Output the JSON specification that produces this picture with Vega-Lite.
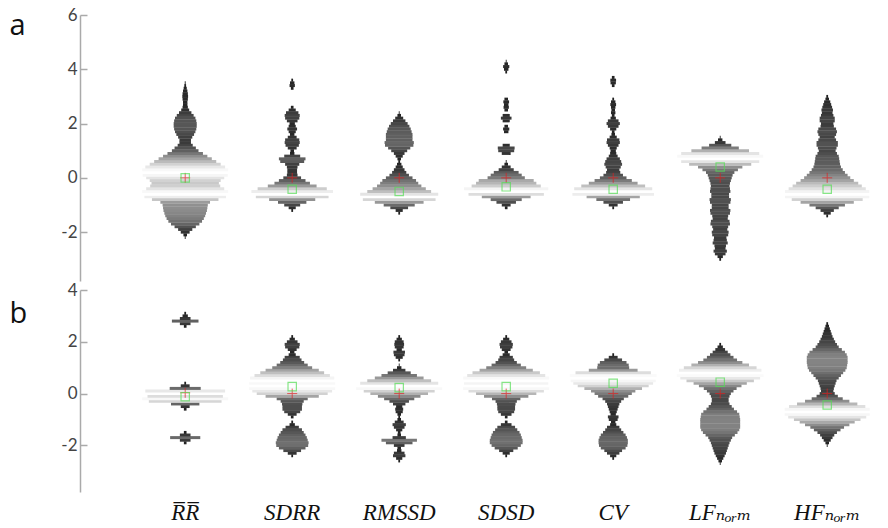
{
"$schema": "https://vega.github.io/schema/vega-lite/v6.json",
"padding": {"left": 9, "top": 6, "right": 5, "bottom": 0},
"config": {"view": {"stroke": null}, "axis": {"grid": false}},
"datasets": {"all": [
{"p":"a","c":"RR","v":-2.2,"d":0.01},{"p":"a","c":"RR","v":-2.1,"d":0.04},{"p":"a","c":"RR","v":-2.0,"d":0.1},{"p":"a","c":"RR","v":-1.9,"d":0.16},{"p":"a","c":"RR","v":-1.8,"d":0.24},{"p":"a","c":"RR","v":-1.7,"d":0.32},{"p":"a","c":"RR","v":-1.6,"d":0.38},{"p":"a","c":"RR","v":-1.5,"d":0.42},{"p":"a","c":"RR","v":-1.4,"d":0.45},{"p":"a","c":"RR","v":-1.3,"d":0.47},{"p":"a","c":"RR","v":-1.2,"d":0.49},{"p":"a","c":"RR","v":-1.1,"d":0.5},{"p":"a","c":"RR","v":-1.0,"d":0.51},{"p":"a","c":"RR","v":-0.9,"d":0.56},{"p":"a","c":"RR","v":-0.8,"d":0.75},{"p":"a","c":"RR","v":-0.7,"d":0.92},{"p":"a","c":"RR","v":-0.6,"d":1},{"p":"a","c":"RR","v":-0.5,"d":0.97},{"p":"a","c":"RR","v":-0.4,"d":0.88},{"p":"a","c":"RR","v":-0.3,"d":0.79},{"p":"a","c":"RR","v":-0.2,"d":0.76},{"p":"a","c":"RR","v":-0.1,"d":0.8},{"p":"a","c":"RR","v":0.0,"d":0.88},{"p":"a","c":"RR","v":0.1,"d":0.96},{"p":"a","c":"RR","v":0.2,"d":1},{"p":"a","c":"RR","v":0.3,"d":0.97},{"p":"a","c":"RR","v":0.4,"d":0.9},{"p":"a","c":"RR","v":0.5,"d":0.8},{"p":"a","c":"RR","v":0.6,"d":0.7},{"p":"a","c":"RR","v":0.7,"d":0.6},{"p":"a","c":"RR","v":0.8,"d":0.5},{"p":"a","c":"RR","v":0.9,"d":0.4},{"p":"a","c":"RR","v":1.0,"d":0.3},{"p":"a","c":"RR","v":1.1,"d":0.24},{"p":"a","c":"RR","v":1.2,"d":0.17},{"p":"a","c":"RR","v":1.3,"d":0.13},{"p":"a","c":"RR","v":1.4,"d":0.13},{"p":"a","c":"RR","v":1.5,"d":0.16},{"p":"a","c":"RR","v":1.6,"d":0.2},{"p":"a","c":"RR","v":1.7,"d":0.23},{"p":"a","c":"RR","v":1.8,"d":0.25},{"p":"a","c":"RR","v":1.9,"d":0.26},{"p":"a","c":"RR","v":2.0,"d":0.26},{"p":"a","c":"RR","v":2.1,"d":0.25},{"p":"a","c":"RR","v":2.2,"d":0.23},{"p":"a","c":"RR","v":2.3,"d":0.19},{"p":"a","c":"RR","v":2.4,"d":0.14},{"p":"a","c":"RR","v":2.5,"d":0.09},{"p":"a","c":"RR","v":2.6,"d":0.06},{"p":"a","c":"RR","v":2.7,"d":0.05},{"p":"a","c":"RR","v":2.8,"d":0.05},{"p":"a","c":"RR","v":2.9,"d":0.06},{"p":"a","c":"RR","v":3.0,"d":0.065},{"p":"a","c":"RR","v":3.1,"d":0.06},{"p":"a","c":"RR","v":3.2,"d":0.05},{"p":"a","c":"RR","v":3.3,"d":0.035},{"p":"a","c":"RR","v":3.4,"d":0.02},{"p":"a","c":"RR","v":3.5,"d":0.01},
{"p":"a","c":"SDRR","v":-1.2,"d":0.02},{"p":"a","c":"SDRR","v":-1.1,"d":0.08},{"p":"a","c":"SDRR","v":-1.0,"d":0.18},{"p":"a","c":"SDRR","v":-0.9,"d":0.32},{"p":"a","c":"SDRR","v":-0.8,"d":0.52},{"p":"a","c":"SDRR","v":-0.7,"d":0.82},{"p":"a","c":"SDRR","v":-0.6,"d":1},{"p":"a","c":"SDRR","v":-0.5,"d":0.92},{"p":"a","c":"SDRR","v":-0.4,"d":0.78},{"p":"a","c":"SDRR","v":-0.3,"d":0.55},{"p":"a","c":"SDRR","v":-0.2,"d":0.4},{"p":"a","c":"SDRR","v":-0.1,"d":0.3},{"p":"a","c":"SDRR","v":0.0,"d":0.2},{"p":"a","c":"SDRR","v":0.1,"d":0.12},{"p":"a","c":"SDRR","v":0.2,"d":0.11},{"p":"a","c":"SDRR","v":0.3,"d":0.11},{"p":"a","c":"SDRR","v":0.4,"d":0.12},{"p":"a","c":"SDRR","v":0.5,"d":0.16},{"p":"a","c":"SDRR","v":0.6,"d":0.27},{"p":"a","c":"SDRR","v":0.7,"d":0.3},{"p":"a","c":"SDRR","v":0.8,"d":0.18},{"p":"a","c":"SDRR","v":0.9,"d":0.05},{"p":"a","c":"SDRR","v":1.0,"d":0.04},{"p":"a","c":"SDRR","v":1.1,"d":0.1},{"p":"a","c":"SDRR","v":1.2,"d":0.15},{"p":"a","c":"SDRR","v":1.3,"d":0.17},{"p":"a","c":"SDRR","v":1.4,"d":0.16},{"p":"a","c":"SDRR","v":1.5,"d":0.1},{"p":"a","c":"SDRR","v":1.6,"d":0.05},{"p":"a","c":"SDRR","v":1.7,"d":0.08},{"p":"a","c":"SDRR","v":1.8,"d":0.11},{"p":"a","c":"SDRR","v":1.9,"d":0.08},{"p":"a","c":"SDRR","v":2.0,"d":0.06},{"p":"a","c":"SDRR","v":2.1,"d":0.12},{"p":"a","c":"SDRR","v":2.2,"d":0.16},{"p":"a","c":"SDRR","v":2.3,"d":0.17},{"p":"a","c":"SDRR","v":2.4,"d":0.14},{"p":"a","c":"SDRR","v":2.5,"d":0.08},{"p":"a","c":"SDRR","v":2.6,"d":0.03},{"p":"a","c":"SDRR","v":3.3,"d":0.03},{"p":"a","c":"SDRR","v":3.4,"d":0.06},{"p":"a","c":"SDRR","v":3.5,"d":0.05},{"p":"a","c":"SDRR","v":3.6,"d":0.02},
{"p":"a","c":"RMSSD","v":-1.3,"d":0.02},{"p":"a","c":"RMSSD","v":-1.2,"d":0.08},{"p":"a","c":"RMSSD","v":-1.1,"d":0.2},{"p":"a","c":"RMSSD","v":-1.0,"d":0.35},{"p":"a","c":"RMSSD","v":-0.9,"d":0.55},{"p":"a","c":"RMSSD","v":-0.8,"d":0.82},{"p":"a","c":"RMSSD","v":-0.7,"d":1},{"p":"a","c":"RMSSD","v":-0.6,"d":0.88},{"p":"a","c":"RMSSD","v":-0.5,"d":0.72},{"p":"a","c":"RMSSD","v":-0.4,"d":0.6},{"p":"a","c":"RMSSD","v":-0.3,"d":0.5},{"p":"a","c":"RMSSD","v":-0.2,"d":0.43},{"p":"a","c":"RMSSD","v":-0.1,"d":0.38},{"p":"a","c":"RMSSD","v":0.0,"d":0.3},{"p":"a","c":"RMSSD","v":0.1,"d":0.22},{"p":"a","c":"RMSSD","v":0.2,"d":0.16},{"p":"a","c":"RMSSD","v":0.3,"d":0.12},{"p":"a","c":"RMSSD","v":0.4,"d":0.08},{"p":"a","c":"RMSSD","v":0.5,"d":0.05},{"p":"a","c":"RMSSD","v":0.6,"d":0.02},{"p":"a","c":"RMSSD","v":0.7,"d":0.04},{"p":"a","c":"RMSSD","v":0.8,"d":0.08},{"p":"a","c":"RMSSD","v":0.9,"d":0.12},{"p":"a","c":"RMSSD","v":1.0,"d":0.18},{"p":"a","c":"RMSSD","v":1.1,"d":0.25},{"p":"a","c":"RMSSD","v":1.2,"d":0.32},{"p":"a","c":"RMSSD","v":1.3,"d":0.33},{"p":"a","c":"RMSSD","v":1.4,"d":0.3},{"p":"a","c":"RMSSD","v":1.5,"d":0.3},{"p":"a","c":"RMSSD","v":1.6,"d":0.3},{"p":"a","c":"RMSSD","v":1.7,"d":0.28},{"p":"a","c":"RMSSD","v":1.8,"d":0.26},{"p":"a","c":"RMSSD","v":1.9,"d":0.23},{"p":"a","c":"RMSSD","v":2.0,"d":0.19},{"p":"a","c":"RMSSD","v":2.1,"d":0.14},{"p":"a","c":"RMSSD","v":2.2,"d":0.09},{"p":"a","c":"RMSSD","v":2.3,"d":0.04},{"p":"a","c":"RMSSD","v":2.4,"d":0.01},
{"p":"a","c":"SDSD","v":-1.1,"d":0.03},{"p":"a","c":"SDSD","v":-1.0,"d":0.1},{"p":"a","c":"SDSD","v":-0.9,"d":0.22},{"p":"a","c":"SDSD","v":-0.8,"d":0.35},{"p":"a","c":"SDSD","v":-0.7,"d":0.55},{"p":"a","c":"SDSD","v":-0.6,"d":0.85},{"p":"a","c":"SDSD","v":-0.5,"d":1},{"p":"a","c":"SDSD","v":-0.4,"d":0.95},{"p":"a","c":"SDSD","v":-0.3,"d":0.78},{"p":"a","c":"SDSD","v":-0.2,"d":0.68},{"p":"a","c":"SDSD","v":-0.1,"d":0.62},{"p":"a","c":"SDSD","v":0.0,"d":0.42},{"p":"a","c":"SDSD","v":0.1,"d":0.35},{"p":"a","c":"SDSD","v":0.2,"d":0.28},{"p":"a","c":"SDSD","v":0.3,"d":0.17},{"p":"a","c":"SDSD","v":0.4,"d":0.1},{"p":"a","c":"SDSD","v":0.5,"d":0.04},{"p":"a","c":"SDSD","v":0.6,"d":0.01},{"p":"a","c":"SDSD","v":0.9,"d":0.1},{"p":"a","c":"SDSD","v":1.0,"d":0.18},{"p":"a","c":"SDSD","v":1.1,"d":0.19},{"p":"a","c":"SDSD","v":1.2,"d":0.08},{"p":"a","c":"SDSD","v":1.7,"d":0.05},{"p":"a","c":"SDSD","v":1.8,"d":0.07},{"p":"a","c":"SDSD","v":1.9,"d":0.04},{"p":"a","c":"SDSD","v":2.1,"d":0.08},{"p":"a","c":"SDSD","v":2.2,"d":0.12},{"p":"a","c":"SDSD","v":2.3,"d":0.08},{"p":"a","c":"SDSD","v":2.5,"d":0.04},{"p":"a","c":"SDSD","v":2.6,"d":0.06},{"p":"a","c":"SDSD","v":2.7,"d":0.05},{"p":"a","c":"SDSD","v":2.8,"d":0.065},{"p":"a","c":"SDSD","v":2.9,"d":0.04},{"p":"a","c":"SDSD","v":3.9,"d":0.02},{"p":"a","c":"SDSD","v":4.0,"d":0.05},{"p":"a","c":"SDSD","v":4.1,"d":0.07},{"p":"a","c":"SDSD","v":4.2,"d":0.04},{"p":"a","c":"SDSD","v":4.3,"d":0.01},
{"p":"a","c":"CV","v":-1.1,"d":0.02},{"p":"a","c":"CV","v":-1.0,"d":0.1},{"p":"a","c":"CV","v":-0.9,"d":0.22},{"p":"a","c":"CV","v":-0.8,"d":0.38},{"p":"a","c":"CV","v":-0.7,"d":0.6},{"p":"a","c":"CV","v":-0.6,"d":0.92},{"p":"a","c":"CV","v":-0.5,"d":1},{"p":"a","c":"CV","v":-0.4,"d":0.88},{"p":"a","c":"CV","v":-0.3,"d":0.72},{"p":"a","c":"CV","v":-0.2,"d":0.55},{"p":"a","c":"CV","v":-0.1,"d":0.42},{"p":"a","c":"CV","v":0.0,"d":0.3},{"p":"a","c":"CV","v":0.1,"d":0.22},{"p":"a","c":"CV","v":0.2,"d":0.16},{"p":"a","c":"CV","v":0.3,"d":0.14},{"p":"a","c":"CV","v":0.4,"d":0.17},{"p":"a","c":"CV","v":0.5,"d":0.2},{"p":"a","c":"CV","v":0.6,"d":0.18},{"p":"a","c":"CV","v":0.7,"d":0.15},{"p":"a","c":"CV","v":0.8,"d":0.1},{"p":"a","c":"CV","v":0.9,"d":0.07},{"p":"a","c":"CV","v":1.0,"d":0.06},{"p":"a","c":"CV","v":1.1,"d":0.08},{"p":"a","c":"CV","v":1.2,"d":0.12},{"p":"a","c":"CV","v":1.3,"d":0.15},{"p":"a","c":"CV","v":1.4,"d":0.14},{"p":"a","c":"CV","v":1.5,"d":0.08},{"p":"a","c":"CV","v":1.6,"d":0.04},{"p":"a","c":"CV","v":1.7,"d":0.03},{"p":"a","c":"CV","v":1.8,"d":0.07},{"p":"a","c":"CV","v":1.9,"d":0.12},{"p":"a","c":"CV","v":2.0,"d":0.15},{"p":"a","c":"CV","v":2.1,"d":0.12},{"p":"a","c":"CV","v":2.2,"d":0.06},{"p":"a","c":"CV","v":2.3,"d":0.03},{"p":"a","c":"CV","v":2.4,"d":0.05},{"p":"a","c":"CV","v":2.5,"d":0.04},{"p":"a","c":"CV","v":2.6,"d":0.05},{"p":"a","c":"CV","v":2.7,"d":0.065},{"p":"a","c":"CV","v":2.8,"d":0.05},{"p":"a","c":"CV","v":2.9,"d":0.02},{"p":"a","c":"CV","v":3.4,"d":0.03},{"p":"a","c":"CV","v":3.5,"d":0.06},{"p":"a","c":"CV","v":3.6,"d":0.065},{"p":"a","c":"CV","v":3.7,"d":0.03},
{"p":"a","c":"LF","v":-3.0,"d":0.02},{"p":"a","c":"LF","v":-2.9,"d":0.06},{"p":"a","c":"LF","v":-2.8,"d":0.12},{"p":"a","c":"LF","v":-2.7,"d":0.15},{"p":"a","c":"LF","v":-2.6,"d":0.12},{"p":"a","c":"LF","v":-2.5,"d":0.13},{"p":"a","c":"LF","v":-2.4,"d":0.17},{"p":"a","c":"LF","v":-2.3,"d":0.15},{"p":"a","c":"LF","v":-2.2,"d":0.14},{"p":"a","c":"LF","v":-2.1,"d":0.18},{"p":"a","c":"LF","v":-2.0,"d":0.19},{"p":"a","c":"LF","v":-1.9,"d":0.16},{"p":"a","c":"LF","v":-1.8,"d":0.18},{"p":"a","c":"LF","v":-1.7,"d":0.22},{"p":"a","c":"LF","v":-1.6,"d":0.21},{"p":"a","c":"LF","v":-1.5,"d":0.17},{"p":"a","c":"LF","v":-1.4,"d":0.18},{"p":"a","c":"LF","v":-1.3,"d":0.22},{"p":"a","c":"LF","v":-1.2,"d":0.23},{"p":"a","c":"LF","v":-1.1,"d":0.19},{"p":"a","c":"LF","v":-1.0,"d":0.19},{"p":"a","c":"LF","v":-0.9,"d":0.23},{"p":"a","c":"LF","v":-0.8,"d":0.24},{"p":"a","c":"LF","v":-0.7,"d":0.2},{"p":"a","c":"LF","v":-0.6,"d":0.2},{"p":"a","c":"LF","v":-0.5,"d":0.23},{"p":"a","c":"LF","v":-0.4,"d":0.22},{"p":"a","c":"LF","v":-0.3,"d":0.21},{"p":"a","c":"LF","v":-0.2,"d":0.22},{"p":"a","c":"LF","v":-0.1,"d":0.24},{"p":"a","c":"LF","v":0.0,"d":0.26},{"p":"a","c":"LF","v":0.1,"d":0.28},{"p":"a","c":"LF","v":0.2,"d":0.32},{"p":"a","c":"LF","v":0.3,"d":0.4},{"p":"a","c":"LF","v":0.4,"d":0.5},{"p":"a","c":"LF","v":0.5,"d":0.7},{"p":"a","c":"LF","v":0.6,"d":0.88},{"p":"a","c":"LF","v":0.7,"d":1},{"p":"a","c":"LF","v":0.8,"d":0.97},{"p":"a","c":"LF","v":0.9,"d":0.88},{"p":"a","c":"LF","v":1.0,"d":0.65},{"p":"a","c":"LF","v":1.1,"d":0.42},{"p":"a","c":"LF","v":1.2,"d":0.25},{"p":"a","c":"LF","v":1.3,"d":0.12},{"p":"a","c":"LF","v":1.4,"d":0.05},{"p":"a","c":"LF","v":1.5,"d":0.01},
{"p":"a","c":"HF","v":-1.4,"d":0.02},{"p":"a","c":"HF","v":-1.3,"d":0.08},{"p":"a","c":"HF","v":-1.2,"d":0.15},{"p":"a","c":"HF","v":-1.1,"d":0.26},{"p":"a","c":"HF","v":-1.0,"d":0.4},{"p":"a","c":"HF","v":-0.9,"d":0.6},{"p":"a","c":"HF","v":-0.8,"d":0.8},{"p":"a","c":"HF","v":-0.7,"d":0.95},{"p":"a","c":"HF","v":-0.6,"d":1},{"p":"a","c":"HF","v":-0.5,"d":0.95},{"p":"a","c":"HF","v":-0.4,"d":0.87},{"p":"a","c":"HF","v":-0.3,"d":0.78},{"p":"a","c":"HF","v":-0.2,"d":0.7},{"p":"a","c":"HF","v":-0.1,"d":0.6},{"p":"a","c":"HF","v":0.0,"d":0.52},{"p":"a","c":"HF","v":0.1,"d":0.46},{"p":"a","c":"HF","v":0.2,"d":0.4},{"p":"a","c":"HF","v":0.3,"d":0.35},{"p":"a","c":"HF","v":0.4,"d":0.31},{"p":"a","c":"HF","v":0.5,"d":0.29},{"p":"a","c":"HF","v":0.6,"d":0.28},{"p":"a","c":"HF","v":0.7,"d":0.27},{"p":"a","c":"HF","v":0.8,"d":0.26},{"p":"a","c":"HF","v":0.9,"d":0.22},{"p":"a","c":"HF","v":1.0,"d":0.19},{"p":"a","c":"HF","v":1.1,"d":0.21},{"p":"a","c":"HF","v":1.2,"d":0.24},{"p":"a","c":"HF","v":1.3,"d":0.24},{"p":"a","c":"HF","v":1.4,"d":0.2},{"p":"a","c":"HF","v":1.5,"d":0.17},{"p":"a","c":"HF","v":1.6,"d":0.2},{"p":"a","c":"HF","v":1.7,"d":0.22},{"p":"a","c":"HF","v":1.8,"d":0.2},{"p":"a","c":"HF","v":1.9,"d":0.15},{"p":"a","c":"HF","v":2.0,"d":0.14},{"p":"a","c":"HF","v":2.1,"d":0.17},{"p":"a","c":"HF","v":2.2,"d":0.17},{"p":"a","c":"HF","v":2.3,"d":0.14},{"p":"a","c":"HF","v":2.4,"d":0.12},{"p":"a","c":"HF","v":2.5,"d":0.13},{"p":"a","c":"HF","v":2.6,"d":0.11},{"p":"a","c":"HF","v":2.7,"d":0.09},{"p":"a","c":"HF","v":2.8,"d":0.07},{"p":"a","c":"HF","v":2.9,"d":0.04},{"p":"a","c":"HF","v":3.0,"d":0.02},
{"p":"b","c":"RR","v":-1.9,"d":0.03},{"p":"b","c":"RR","v":-1.8,"d":0.12},{"p":"b","c":"RR","v":-1.7,"d":0.34},{"p":"b","c":"RR","v":-1.6,"d":0.12},{"p":"b","c":"RR","v":-1.5,"d":0.03},{"p":"b","c":"RR","v":-0.6,"d":0.03},{"p":"b","c":"RR","v":-0.5,"d":0.1},{"p":"b","c":"RR","v":-0.4,"d":0.32},{"p":"b","c":"RR","v":-0.3,"d":0.82},{"p":"b","c":"RR","v":-0.2,"d":0.97},{"p":"b","c":"RR","v":-0.1,"d":0.85},{"p":"b","c":"RR","v":0.0,"d":1},{"p":"b","c":"RR","v":0.1,"d":0.9},{"p":"b","c":"RR","v":0.2,"d":0.35},{"p":"b","c":"RR","v":0.3,"d":0.1},{"p":"b","c":"RR","v":0.4,"d":0.02},{"p":"b","c":"RR","v":2.6,"d":0.03},{"p":"b","c":"RR","v":2.7,"d":0.12},{"p":"b","c":"RR","v":2.8,"d":0.3},{"p":"b","c":"RR","v":2.9,"d":0.12},{"p":"b","c":"RR","v":3.0,"d":0.06},{"p":"b","c":"RR","v":3.1,"d":0.02},
{"p":"b","c":"SDRR","v":-2.4,"d":0.02},{"p":"b","c":"SDRR","v":-2.3,"d":0.1},{"p":"b","c":"SDRR","v":-2.2,"d":0.2},{"p":"b","c":"SDRR","v":-2.1,"d":0.3},{"p":"b","c":"SDRR","v":-2.0,"d":0.36},{"p":"b","c":"SDRR","v":-1.9,"d":0.37},{"p":"b","c":"SDRR","v":-1.8,"d":0.35},{"p":"b","c":"SDRR","v":-1.7,"d":0.33},{"p":"b","c":"SDRR","v":-1.6,"d":0.3},{"p":"b","c":"SDRR","v":-1.5,"d":0.26},{"p":"b","c":"SDRR","v":-1.4,"d":0.22},{"p":"b","c":"SDRR","v":-1.3,"d":0.15},{"p":"b","c":"SDRR","v":-1.2,"d":0.06},{"p":"b","c":"SDRR","v":-1.1,"d":0.02},{"p":"b","c":"SDRR","v":-0.9,"d":0.03},{"p":"b","c":"SDRR","v":-0.8,"d":0.1},{"p":"b","c":"SDRR","v":-0.7,"d":0.18},{"p":"b","c":"SDRR","v":-0.6,"d":0.22},{"p":"b","c":"SDRR","v":-0.5,"d":0.22},{"p":"b","c":"SDRR","v":-0.4,"d":0.23},{"p":"b","c":"SDRR","v":-0.3,"d":0.26},{"p":"b","c":"SDRR","v":-0.2,"d":0.35},{"p":"b","c":"SDRR","v":-0.1,"d":0.6},{"p":"b","c":"SDRR","v":0.0,"d":0.8},{"p":"b","c":"SDRR","v":0.1,"d":0.9},{"p":"b","c":"SDRR","v":0.2,"d":0.97},{"p":"b","c":"SDRR","v":0.3,"d":1},{"p":"b","c":"SDRR","v":0.4,"d":0.97},{"p":"b","c":"SDRR","v":0.5,"d":1},{"p":"b","c":"SDRR","v":0.6,"d":0.95},{"p":"b","c":"SDRR","v":0.7,"d":0.85},{"p":"b","c":"SDRR","v":0.8,"d":0.72},{"p":"b","c":"SDRR","v":0.9,"d":0.6},{"p":"b","c":"SDRR","v":1.0,"d":0.45},{"p":"b","c":"SDRR","v":1.1,"d":0.35},{"p":"b","c":"SDRR","v":1.2,"d":0.27},{"p":"b","c":"SDRR","v":1.3,"d":0.21},{"p":"b","c":"SDRR","v":1.4,"d":0.17},{"p":"b","c":"SDRR","v":1.5,"d":0.08},{"p":"b","c":"SDRR","v":1.6,"d":0.05},{"p":"b","c":"SDRR","v":1.7,"d":0.1},{"p":"b","c":"SDRR","v":1.8,"d":0.16},{"p":"b","c":"SDRR","v":1.9,"d":0.17},{"p":"b","c":"SDRR","v":2.0,"d":0.12},{"p":"b","c":"SDRR","v":2.1,"d":0.06},{"p":"b","c":"SDRR","v":2.2,"d":0.02},
{"p":"b","c":"RMSSD","v":-2.6,"d":0.02},{"p":"b","c":"RMSSD","v":-2.5,"d":0.07},{"p":"b","c":"RMSSD","v":-2.4,"d":0.14},{"p":"b","c":"RMSSD","v":-2.3,"d":0.12},{"p":"b","c":"RMSSD","v":-2.2,"d":0.05},{"p":"b","c":"RMSSD","v":-2.1,"d":0.04},{"p":"b","c":"RMSSD","v":-2.0,"d":0.12},{"p":"b","c":"RMSSD","v":-1.9,"d":0.3},{"p":"b","c":"RMSSD","v":-1.8,"d":0.4},{"p":"b","c":"RMSSD","v":-1.7,"d":0.15},{"p":"b","c":"RMSSD","v":-1.6,"d":0.04},{"p":"b","c":"RMSSD","v":-1.5,"d":0.03},{"p":"b","c":"RMSSD","v":-1.4,"d":0.07},{"p":"b","c":"RMSSD","v":-1.3,"d":0.12},{"p":"b","c":"RMSSD","v":-1.2,"d":0.15},{"p":"b","c":"RMSSD","v":-1.1,"d":0.1},{"p":"b","c":"RMSSD","v":-1.0,"d":0.04},{"p":"b","c":"RMSSD","v":-0.9,"d":0.02},{"p":"b","c":"RMSSD","v":-0.8,"d":0.04},{"p":"b","c":"RMSSD","v":-0.7,"d":0.08},{"p":"b","c":"RMSSD","v":-0.6,"d":0.09},{"p":"b","c":"RMSSD","v":-0.5,"d":0.07},{"p":"b","c":"RMSSD","v":-0.4,"d":0.14},{"p":"b","c":"RMSSD","v":-0.3,"d":0.22},{"p":"b","c":"RMSSD","v":-0.2,"d":0.34},{"p":"b","c":"RMSSD","v":-0.1,"d":0.48},{"p":"b","c":"RMSSD","v":0.0,"d":0.65},{"p":"b","c":"RMSSD","v":0.1,"d":0.8},{"p":"b","c":"RMSSD","v":0.2,"d":0.97},{"p":"b","c":"RMSSD","v":0.3,"d":1},{"p":"b","c":"RMSSD","v":0.4,"d":0.88},{"p":"b","c":"RMSSD","v":0.5,"d":0.72},{"p":"b","c":"RMSSD","v":0.6,"d":0.55},{"p":"b","c":"RMSSD","v":0.7,"d":0.4},{"p":"b","c":"RMSSD","v":0.8,"d":0.26},{"p":"b","c":"RMSSD","v":0.9,"d":0.14},{"p":"b","c":"RMSSD","v":1.0,"d":0.05},{"p":"b","c":"RMSSD","v":1.1,"d":0.01},{"p":"b","c":"RMSSD","v":1.3,"d":0.02},{"p":"b","c":"RMSSD","v":1.4,"d":0.08},{"p":"b","c":"RMSSD","v":1.5,"d":0.12},{"p":"b","c":"RMSSD","v":1.6,"d":0.13},{"p":"b","c":"RMSSD","v":1.7,"d":0.06},{"p":"b","c":"RMSSD","v":1.8,"d":0.1},{"p":"b","c":"RMSSD","v":1.9,"d":0.11},{"p":"b","c":"RMSSD","v":2.0,"d":0.1},{"p":"b","c":"RMSSD","v":2.1,"d":0.06},{"p":"b","c":"RMSSD","v":2.2,"d":0.02},
{"p":"b","c":"SDSD","v":-2.4,"d":0.02},{"p":"b","c":"SDSD","v":-2.3,"d":0.08},{"p":"b","c":"SDSD","v":-2.2,"d":0.16},{"p":"b","c":"SDSD","v":-2.1,"d":0.26},{"p":"b","c":"SDSD","v":-2.0,"d":0.33},{"p":"b","c":"SDSD","v":-1.9,"d":0.37},{"p":"b","c":"SDSD","v":-1.8,"d":0.37},{"p":"b","c":"SDSD","v":-1.7,"d":0.35},{"p":"b","c":"SDSD","v":-1.6,"d":0.33},{"p":"b","c":"SDSD","v":-1.5,"d":0.3},{"p":"b","c":"SDSD","v":-1.4,"d":0.25},{"p":"b","c":"SDSD","v":-1.3,"d":0.2},{"p":"b","c":"SDSD","v":-1.2,"d":0.12},{"p":"b","c":"SDSD","v":-1.1,"d":0.03},{"p":"b","c":"SDSD","v":-0.9,"d":0.03},{"p":"b","c":"SDSD","v":-0.8,"d":0.12},{"p":"b","c":"SDSD","v":-0.7,"d":0.18},{"p":"b","c":"SDSD","v":-0.6,"d":0.2},{"p":"b","c":"SDSD","v":-0.5,"d":0.2},{"p":"b","c":"SDSD","v":-0.4,"d":0.21},{"p":"b","c":"SDSD","v":-0.3,"d":0.24},{"p":"b","c":"SDSD","v":-0.2,"d":0.32},{"p":"b","c":"SDSD","v":-0.1,"d":0.5},{"p":"b","c":"SDSD","v":0.0,"d":0.68},{"p":"b","c":"SDSD","v":0.1,"d":0.85},{"p":"b","c":"SDSD","v":0.2,"d":0.97},{"p":"b","c":"SDSD","v":0.3,"d":1},{"p":"b","c":"SDSD","v":0.4,"d":0.95},{"p":"b","c":"SDSD","v":0.5,"d":1},{"p":"b","c":"SDSD","v":0.6,"d":0.97},{"p":"b","c":"SDSD","v":0.7,"d":0.88},{"p":"b","c":"SDSD","v":0.8,"d":0.76},{"p":"b","c":"SDSD","v":0.9,"d":0.6},{"p":"b","c":"SDSD","v":1.0,"d":0.45},{"p":"b","c":"SDSD","v":1.1,"d":0.33},{"p":"b","c":"SDSD","v":1.2,"d":0.24},{"p":"b","c":"SDSD","v":1.3,"d":0.18},{"p":"b","c":"SDSD","v":1.4,"d":0.15},{"p":"b","c":"SDSD","v":1.5,"d":0.08},{"p":"b","c":"SDSD","v":1.6,"d":0.04},{"p":"b","c":"SDSD","v":1.7,"d":0.1},{"p":"b","c":"SDSD","v":1.8,"d":0.14},{"p":"b","c":"SDSD","v":1.9,"d":0.15},{"p":"b","c":"SDSD","v":2.0,"d":0.12},{"p":"b","c":"SDSD","v":2.1,"d":0.07},{"p":"b","c":"SDSD","v":2.2,"d":0.02},
{"p":"b","c":"CV","v":-2.5,"d":0.02},{"p":"b","c":"CV","v":-2.4,"d":0.07},{"p":"b","c":"CV","v":-2.3,"d":0.14},{"p":"b","c":"CV","v":-2.2,"d":0.2},{"p":"b","c":"CV","v":-2.1,"d":0.28},{"p":"b","c":"CV","v":-2.0,"d":0.32},{"p":"b","c":"CV","v":-1.9,"d":0.33},{"p":"b","c":"CV","v":-1.8,"d":0.33},{"p":"b","c":"CV","v":-1.7,"d":0.31},{"p":"b","c":"CV","v":-1.6,"d":0.28},{"p":"b","c":"CV","v":-1.5,"d":0.23},{"p":"b","c":"CV","v":-1.4,"d":0.18},{"p":"b","c":"CV","v":-1.3,"d":0.14},{"p":"b","c":"CV","v":-1.2,"d":0.07},{"p":"b","c":"CV","v":-1.1,"d":0.05},{"p":"b","c":"CV","v":-1.0,"d":0.1},{"p":"b","c":"CV","v":-0.9,"d":0.12},{"p":"b","c":"CV","v":-0.8,"d":0.06},{"p":"b","c":"CV","v":-0.7,"d":0.08},{"p":"b","c":"CV","v":-0.6,"d":0.1},{"p":"b","c":"CV","v":-0.5,"d":0.12},{"p":"b","c":"CV","v":-0.4,"d":0.14},{"p":"b","c":"CV","v":-0.3,"d":0.18},{"p":"b","c":"CV","v":-0.2,"d":0.24},{"p":"b","c":"CV","v":-0.1,"d":0.34},{"p":"b","c":"CV","v":0.0,"d":0.42},{"p":"b","c":"CV","v":0.1,"d":0.5},{"p":"b","c":"CV","v":0.2,"d":0.65},{"p":"b","c":"CV","v":0.3,"d":0.8},{"p":"b","c":"CV","v":0.4,"d":0.9},{"p":"b","c":"CV","v":0.5,"d":0.96},{"p":"b","c":"CV","v":0.6,"d":1},{"p":"b","c":"CV","v":0.7,"d":0.98},{"p":"b","c":"CV","v":0.8,"d":0.85},{"p":"b","c":"CV","v":0.9,"d":0.55},{"p":"b","c":"CV","v":1.0,"d":0.36},{"p":"b","c":"CV","v":1.1,"d":0.35},{"p":"b","c":"CV","v":1.2,"d":0.3},{"p":"b","c":"CV","v":1.3,"d":0.2},{"p":"b","c":"CV","v":1.4,"d":0.1},{"p":"b","c":"CV","v":1.5,"d":0.02},
{"p":"b","c":"LF","v":-2.7,"d":0.01},{"p":"b","c":"LF","v":-2.6,"d":0.04},{"p":"b","c":"LF","v":-2.5,"d":0.07},{"p":"b","c":"LF","v":-2.4,"d":0.1},{"p":"b","c":"LF","v":-2.3,"d":0.13},{"p":"b","c":"LF","v":-2.2,"d":0.15},{"p":"b","c":"LF","v":-2.1,"d":0.17},{"p":"b","c":"LF","v":-2.0,"d":0.19},{"p":"b","c":"LF","v":-1.9,"d":0.21},{"p":"b","c":"LF","v":-1.8,"d":0.24},{"p":"b","c":"LF","v":-1.7,"d":0.27},{"p":"b","c":"LF","v":-1.6,"d":0.33},{"p":"b","c":"LF","v":-1.5,"d":0.39},{"p":"b","c":"LF","v":-1.4,"d":0.43},{"p":"b","c":"LF","v":-1.3,"d":0.45},{"p":"b","c":"LF","v":-1.2,"d":0.45},{"p":"b","c":"LF","v":-1.1,"d":0.45},{"p":"b","c":"LF","v":-1.0,"d":0.45},{"p":"b","c":"LF","v":-0.9,"d":0.44},{"p":"b","c":"LF","v":-0.8,"d":0.43},{"p":"b","c":"LF","v":-0.7,"d":0.38},{"p":"b","c":"LF","v":-0.6,"d":0.31},{"p":"b","c":"LF","v":-0.5,"d":0.26},{"p":"b","c":"LF","v":-0.4,"d":0.21},{"p":"b","c":"LF","v":-0.3,"d":0.19},{"p":"b","c":"LF","v":-0.2,"d":0.19},{"p":"b","c":"LF","v":-0.1,"d":0.21},{"p":"b","c":"LF","v":0.0,"d":0.24},{"p":"b","c":"LF","v":0.1,"d":0.3},{"p":"b","c":"LF","v":0.2,"d":0.37},{"p":"b","c":"LF","v":0.3,"d":0.48},{"p":"b","c":"LF","v":0.4,"d":0.6},{"p":"b","c":"LF","v":0.5,"d":0.76},{"p":"b","c":"LF","v":0.6,"d":0.9},{"p":"b","c":"LF","v":0.7,"d":0.98},{"p":"b","c":"LF","v":0.8,"d":1},{"p":"b","c":"LF","v":0.9,"d":0.93},{"p":"b","c":"LF","v":1.0,"d":0.82},{"p":"b","c":"LF","v":1.1,"d":0.65},{"p":"b","c":"LF","v":1.2,"d":0.5},{"p":"b","c":"LF","v":1.3,"d":0.38},{"p":"b","c":"LF","v":1.4,"d":0.3},{"p":"b","c":"LF","v":1.5,"d":0.23},{"p":"b","c":"LF","v":1.6,"d":0.17},{"p":"b","c":"LF","v":1.7,"d":0.11},{"p":"b","c":"LF","v":1.8,"d":0.06},{"p":"b","c":"LF","v":1.9,"d":0.02},
{"p":"b","c":"HF","v":-2.0,"d":0.01},{"p":"b","c":"HF","v":-1.9,"d":0.04},{"p":"b","c":"HF","v":-1.8,"d":0.08},{"p":"b","c":"HF","v":-1.7,"d":0.12},{"p":"b","c":"HF","v":-1.6,"d":0.16},{"p":"b","c":"HF","v":-1.5,"d":0.22},{"p":"b","c":"HF","v":-1.4,"d":0.3},{"p":"b","c":"HF","v":-1.3,"d":0.38},{"p":"b","c":"HF","v":-1.2,"d":0.5},{"p":"b","c":"HF","v":-1.1,"d":0.62},{"p":"b","c":"HF","v":-1.0,"d":0.75},{"p":"b","c":"HF","v":-0.9,"d":0.88},{"p":"b","c":"HF","v":-0.8,"d":0.96},{"p":"b","c":"HF","v":-0.7,"d":1},{"p":"b","c":"HF","v":-0.6,"d":0.96},{"p":"b","c":"HF","v":-0.5,"d":0.86},{"p":"b","c":"HF","v":-0.4,"d":0.68},{"p":"b","c":"HF","v":-0.3,"d":0.5},{"p":"b","c":"HF","v":-0.2,"d":0.35},{"p":"b","c":"HF","v":-0.1,"d":0.24},{"p":"b","c":"HF","v":0.0,"d":0.17},{"p":"b","c":"HF","v":0.1,"d":0.14},{"p":"b","c":"HF","v":0.2,"d":0.15},{"p":"b","c":"HF","v":0.3,"d":0.17},{"p":"b","c":"HF","v":0.4,"d":0.19},{"p":"b","c":"HF","v":0.5,"d":0.21},{"p":"b","c":"HF","v":0.6,"d":0.26},{"p":"b","c":"HF","v":0.7,"d":0.31},{"p":"b","c":"HF","v":0.8,"d":0.36},{"p":"b","c":"HF","v":0.9,"d":0.41},{"p":"b","c":"HF","v":1.0,"d":0.44},{"p":"b","c":"HF","v":1.1,"d":0.45},{"p":"b","c":"HF","v":1.2,"d":0.46},{"p":"b","c":"HF","v":1.3,"d":0.46},{"p":"b","c":"HF","v":1.4,"d":0.46},{"p":"b","c":"HF","v":1.5,"d":0.44},{"p":"b","c":"HF","v":1.6,"d":0.4},{"p":"b","c":"HF","v":1.7,"d":0.33},{"p":"b","c":"HF","v":1.8,"d":0.26},{"p":"b","c":"HF","v":1.9,"d":0.22},{"p":"b","c":"HF","v":2.0,"d":0.18},{"p":"b","c":"HF","v":2.1,"d":0.15},{"p":"b","c":"HF","v":2.2,"d":0.12},{"p":"b","c":"HF","v":2.3,"d":0.1},{"p":"b","c":"HF","v":2.4,"d":0.08},{"p":"b","c":"HF","v":2.5,"d":0.06},{"p":"b","c":"HF","v":2.6,"d":0.04},{"p":"b","c":"HF","v":2.7,"d":0.02},
{"p":"a","c":"RR","k":"mean","v":0},{"p":"a","c":"RR","k":"med","v":0},
{"p":"a","c":"SDRR","k":"mean","v":0},{"p":"a","c":"SDRR","k":"med","v":-0.42},
{"p":"a","c":"RMSSD","k":"mean","v":0},{"p":"a","c":"RMSSD","k":"med","v":-0.5},
{"p":"a","c":"SDSD","k":"mean","v":0},{"p":"a","c":"SDSD","k":"med","v":-0.33},
{"p":"a","c":"CV","k":"mean","v":0},{"p":"a","c":"CV","k":"med","v":-0.42},
{"p":"a","c":"LF","k":"mean","v":0},{"p":"a","c":"LF","k":"med","v":0.4},
{"p":"a","c":"HF","k":"mean","v":0},{"p":"a","c":"HF","k":"med","v":-0.42},
{"p":"b","c":"RR","k":"mean","v":0.03},{"p":"b","c":"RR","k":"med","v":-0.12},
{"p":"b","c":"SDRR","k":"mean","v":0},{"p":"b","c":"SDRR","k":"med","v":0.27},
{"p":"b","c":"RMSSD","k":"mean","v":0},{"p":"b","c":"RMSSD","k":"med","v":0.23},
{"p":"b","c":"SDSD","k":"mean","v":0},{"p":"b","c":"SDSD","k":"med","v":0.27},
{"p":"b","c":"CV","k":"mean","v":0},{"p":"b","c":"CV","k":"med","v":0.4},
{"p":"b","c":"LF","k":"mean","v":0},{"p":"b","c":"LF","k":"med","v":0.44},
{"p":"b","c":"HF","k":"mean","v":0},{"p":"b","c":"HF","k":"med","v":-0.44}
]},
"vconcat": [
{
"data": {"name": "all"},
"transform": [{"filter": "datum.p == 'a'"}],
"facet": {"column": {"field": "c", "type": "nominal", "sort": ["RR","SDRR","RMSSD","SDSD","CV","LF","HF"], "title": null, "header": {"labels": false}}},
"spacing": 0,
"spec": {
"width": 106.4, "height": 266,
"encoding": {"y": {"field": "v", "type": "quantitative", "scale": {"domain": [-3.8, 6], "nice": false, "zero": false, "padding": 0},
"axis": {"values": [6,4,2,0,-2], "labelExpr": "replace(datum.label, '\u2212', '-')", "offset": 52, "domainColor": "#aaaaaa", "domainWidth": 1.5, "tickColor": "#aaaaaa", "tickWidth": 1.5, "tickSize": -7, "labelPadding": 10, "labelFont": "Lato", "labelFontSize": 17, "labelColor": "#444444", "title": "a", "titleAngle": 0, "titleFont": "Open Sans", "titleFontSize": 29, "titleFontWeight": "normal", "titleColor": "#111111", "titleAlign": "left", "titleBaseline": "alphabetic", "titleX": -71, "titleY": 19}}},
"layer": [
{"transform": [{"filter": "!datum.k"}], "mark": {"type": "bar", "orient": "horizontal", "size": 3},
 "encoding": {"x": {"field": "d", "type": "quantitative", "stack": "center", "scale": {"domain": [-0.091, 1.091]}, "axis": null},
 "color": {"field": "d", "type": "quantitative", "scale": {"domain": [0, 1], "range": ["#1c1c1c", "#ffffff"], "interpolate": "rgb"}, "legend": null}}},
{"transform": [{"filter": "datum.k == 'mean'"}], "mark": {"type": "point", "shape": "M-1,0L1,0M0,-1L0,1", "filled": false, "stroke": "#e02020", "strokeWidth": 1, "size": 100},
 "encoding": {"x": {"datum": 0.5, "type": "quantitative", "axis": null}}},
{"transform": [{"filter": "datum.k == 'med'"}], "mark": {"type": "point", "shape": "square", "filled": false, "stroke": "#55dd55", "strokeWidth": 1.2, "size": 70},
 "encoding": {"x": {"datum": 0.5, "type": "quantitative", "axis": null}}}
]
}
},
{
"data": {"name": "all"},
"transform": [{"filter": "datum.p == 'b'"}],
"facet": {"column": {"field": "c", "type": "nominal", "sort": ["RR","SDRR","RMSSD","SDSD","CV","LF","HF"], "title": null,
 "header": {"labelOrient": "bottom", "labelFont": "Liberation Serif, DejaVu Serif", "labelFontStyle": "italic", "labelFontSize": 23, "labelColor": "#111111", "labelPadding": 10,
 "labelExpr": "datum.value == 'RR' ? 'R\u0305R\u0305' : datum.value == 'LF' ? 'LF\u2099\u2092\u1d63\u2098' : datum.value == 'HF' ? 'HF\u2099\u2092\u1d63\u2098' : datum.value"}}},
"spacing": 0,
"spec": {
"width": 106.4, "height": 202,
"encoding": {"y": {"field": "v", "type": "quantitative", "scale": {"domain": [-3.8, 4], "nice": false, "zero": false, "padding": 0},
"axis": {"values": [4,2,0,-2], "labelExpr": "replace(datum.label, '\u2212', '-')", "offset": 52, "domainColor": "#aaaaaa", "domainWidth": 1.5, "tickColor": "#aaaaaa", "tickWidth": 1.5, "tickSize": -7, "labelPadding": 10, "labelFont": "Lato", "labelFontSize": 17, "labelColor": "#444444", "title": "b", "titleAngle": 0, "titleFont": "Open Sans", "titleFontSize": 29, "titleFontWeight": "normal", "titleColor": "#111111", "titleAlign": "left", "titleBaseline": "alphabetic", "titleX": -71, "titleY": 32}}},
"layer": [
{"transform": [{"filter": "!datum.k"}], "mark": {"type": "bar", "orient": "horizontal", "size": 3},
 "encoding": {"x": {"field": "d", "type": "quantitative", "stack": "center", "scale": {"domain": [-0.091, 1.091]}, "axis": null},
 "color": {"field": "d", "type": "quantitative", "scale": {"domain": [0, 1], "range": ["#1c1c1c", "#ffffff"], "interpolate": "rgb"}, "legend": null}}},
{"transform": [{"filter": "datum.k == 'mean'"}], "mark": {"type": "point", "shape": "M-1,0L1,0M0,-1L0,1", "filled": false, "stroke": "#e02020", "strokeWidth": 1, "size": 100},
 "encoding": {"x": {"datum": 0.5, "type": "quantitative", "axis": null}}},
{"transform": [{"filter": "datum.k == 'med'"}], "mark": {"type": "point", "shape": "square", "filled": false, "stroke": "#55dd55", "strokeWidth": 1.2, "size": 70},
 "encoding": {"x": {"datum": 0.5, "type": "quantitative", "axis": null}}}
]
}
}
],
"spacing": 0
}
